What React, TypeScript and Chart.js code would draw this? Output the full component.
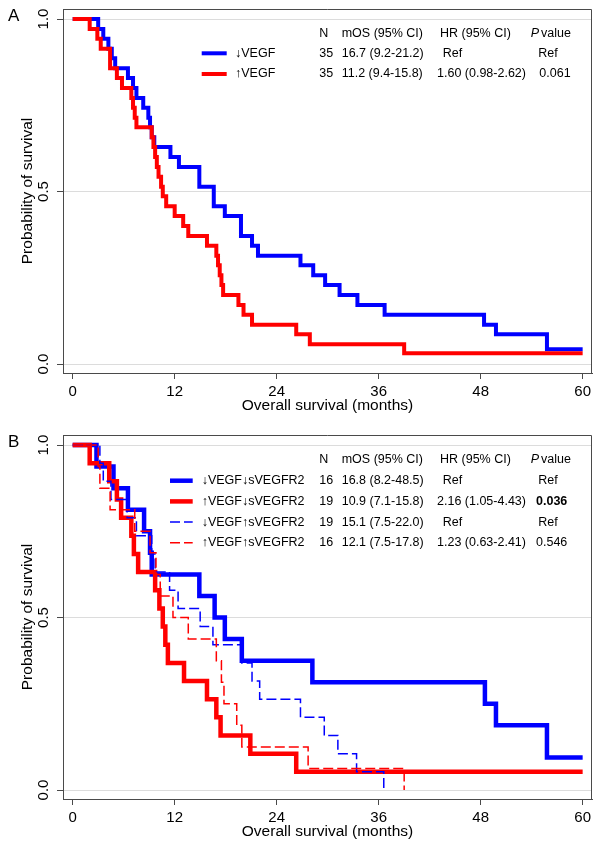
import React, { useEffect, useRef } from "react";
import { Chart, registerables } from "chart.js";

Chart.register(...registerables);

// ---------------- shared axis data ----------------
const xTickValues = [0, 12, 24, 36, 48, 60];
const yTickValues = [0, 0.5, 1.0];
const xAxisTitle = "Overall survival (months)";
const yAxisTitle = "Probability of survival";
const legendHeader = ["N", "mOS (95% CI)", "HR (95% CI)", "P", "value"];

// ---------------- Panel A ----------------
const aLowVegfTimes = [0, 3.0, 3.6, 4.2, 4.6, 5.0, 6.5, 7.1, 7.5, 8.3, 8.9, 9.1, 9.3, 9.6, 11.5, 12.5, 14.9, 16.6, 17.9, 19.8, 21.1, 21.8, 26.8, 28.3, 29.7, 31.4, 33.5, 36.7, 48.4, 49.8, 55.8, 60];
const aLowVegfSurv = [1, 0.971, 0.943, 0.914, 0.886, 0.857, 0.829, 0.8, 0.771, 0.743, 0.714, 0.686, 0.657, 0.629, 0.6, 0.571, 0.514, 0.457, 0.429, 0.371, 0.343, 0.314, 0.286, 0.257, 0.229, 0.2, 0.171, 0.143, 0.114, 0.086, 0.043, 0.043];
const aHighVegfTimes = [0, 2.0, 2.9, 3.3, 4.4, 5.2, 5.8, 6.9, 7.1, 7.3, 7.5, 9.3, 9.5, 9.7, 9.9, 10.1, 10.4, 10.6, 11.0, 12.0, 13.0, 13.6, 15.8, 16.9, 17.1, 17.3, 17.5, 17.7, 19.5, 20.1, 21.1, 26.3, 27.9, 39.0, 60];
const aHighVegfSurv = [1, 0.971, 0.943, 0.914, 0.857, 0.829, 0.8, 0.771, 0.743, 0.714, 0.686, 0.657, 0.629, 0.6, 0.571, 0.543, 0.514, 0.486, 0.457, 0.429, 0.4, 0.371, 0.343, 0.314, 0.286, 0.257, 0.229, 0.2, 0.171, 0.143, 0.114, 0.086, 0.057, 0.031, 0.031];
const aLabels = ["\u2193VEGF", "\u2191VEGF"];
const aN = ["35", "35"];
const aMos = ["16.7 (9.2-21.2)", "11.2 (9.4-15.8)"];
const aHr = ["Ref", "1.60 (0.98-2.62)"];
const aP = ["Ref", "0.061"];
const aPBold = [false, false];

// ---------------- Panel B ----------------
const bLowLowTimes = [0, 2.8, 4.8, 6.5, 8.4, 9.1, 9.3, 14.9, 16.7, 17.9, 19.9, 28.2, 48.5, 49.8, 55.8, 60];
const bLowLowSurv = [1, 0.9375, 0.875, 0.8125, 0.75, 0.6875, 0.625, 0.5625, 0.5, 0.4375, 0.375, 0.3125, 0.25, 0.1875, 0.094, 0.094];
const bHighLowTimes = [0, 2.0, 4.3, 5.2, 5.7, 6.9, 7.2, 7.7, 9.7, 10.2, 10.6, 10.9, 11.2, 13.1, 15.8, 16.9, 17.4, 20.9, 26.3, 60];
const bHighLowSurv = [1, 0.947, 0.895, 0.842, 0.789, 0.737, 0.684, 0.632, 0.579, 0.526, 0.474, 0.421, 0.368, 0.316, 0.263, 0.211, 0.158, 0.105, 0.053, 0.053];
const bLowHighTimes = [0, 3.2, 3.6, 4.5, 6.4, 7.5, 9.3, 9.7, 11.4, 12.4, 15.0, 16.5, 19.9, 21.1, 22.0, 26.8, 29.6, 31.2, 33.4, 36.6];
const bLowHighSurv = [1, 0.947, 0.895, 0.842, 0.789, 0.737, 0.684, 0.632, 0.579, 0.526, 0.474, 0.421, 0.368, 0.316, 0.263, 0.211, 0.158, 0.105, 0.053, 0];
const bHighHighTimes = [0, 3.0, 3.2, 4.4, 7.3, 9.1, 9.8, 10.3, 11.8, 13.6, 16.9, 17.5, 17.8, 19.3, 19.9, 27.7, 39.0];
const bHighHighSurv = [1, 0.9375, 0.875, 0.8125, 0.75, 0.6875, 0.625, 0.5625, 0.5, 0.4375, 0.375, 0.3125, 0.25, 0.1875, 0.125, 0.0625, 0];
const bLabels = ["\u2193VEGF\u2193sVEGFR2", "\u2191VEGF\u2193sVEGFR2", "\u2193VEGF\u2191sVEGFR2", "\u2191VEGF\u2191sVEGFR2"];
const bN = ["16", "19", "19", "16"];
const bMos = ["16.8 (8.2-48.5)", "10.9 (7.1-15.8)", "15.1 (7.5-22.0)", "12.1 (7.5-17.8)"];
const bHr = ["Ref", "2.16 (1.05-4.43)", "Ref", "1.23 (0.63-2.41)"];
const bP = ["Ref", "0.036", "Ref", "0.546"];
const bPBold = [false, true, false, false];

// ---------------- styling ----------------
const FONT = '"Liberation Sans", Arial, Helvetica, sans-serif';
const BLUE = "#0000ff";
const RED = "#ff0000";
const AXIS = "#4a4a4a";
const GRID = "#dcdcdc";
const CANVAS_H = 426;
const PAD_BOTTOM = 10.7;
const AREA_BOTTOM = 373;

type Series = {
  times: number[];
  surv: number[];
  color: string;
  width: number;
  dash: number[];
  order: number;
  label: string;
  n: string;
  mos: string;
  hr: string;
  p: string;
  pBold: boolean;
};

type LegendGeom = {
  lineX0: number;
  lineX1: number;
  nameX: number;
  rowY0: number;
  rowStep: number;
  pNumX: number;
};

function KMPanel(props: { letter: string; top: number; series: Series[]; geom: LegendGeom }) {
  const ref = useRef<HTMLCanvasElement | null>(null);
  useEffect(() => {
    const canvas = ref.current;
    if (!canvas) return;
    const { letter, series, geom } = props;

    const overlay = {
      id: "kmOverlay",
      afterDraw(chart: any) {
        const ctx = chart.ctx as CanvasRenderingContext2D;
        const { left, right, top, bottom } = chart.chartArea;
        ctx.save();
        ctx.strokeStyle = AXIS;
        ctx.lineWidth = 1;
        ctx.setLineDash([]);
        ctx.beginPath();
        ctx.moveTo(left, Math.round(top) + 0.5);
        ctx.lineTo(Math.round(right) - 0.5, Math.round(top) + 0.5);
        ctx.lineTo(Math.round(right) - 0.5, bottom);
        ctx.stroke();

        ctx.fillStyle = "#000";
        ctx.textBaseline = "middle";
        ctx.textAlign = "left";
        ctx.font = `17px ${FONT}`;
        ctx.fillText(letter, 8, 16);

        const fs = 12.5;
        const hy = 33.3;
        ctx.font = `${fs}px ${FONT}`;
        ctx.fillText(legendHeader[0], 319.3, hy);
        ctx.fillText(legendHeader[1], 341.7, hy);
        ctx.fillText(legendHeader[2], 440, hy);
        ctx.font = `italic ${fs}px ${FONT}`;
        ctx.fillText(legendHeader[3], 530.7, hy);
        ctx.font = `${fs}px ${FONT}`;
        ctx.fillText(legendHeader[4], 541, hy);

        series.forEach((s, i) => {
          const y = geom.rowY0 + geom.rowStep * i;
          ctx.strokeStyle = s.color;
          ctx.lineWidth = s.width;
          ctx.setLineDash(s.dash);
          ctx.lineCap = "butt";
          ctx.beginPath();
          ctx.moveTo(geom.lineX0, y);
          ctx.lineTo(geom.lineX1, y);
          ctx.stroke();
          ctx.setLineDash([]);
          ctx.fillStyle = "#000";
          ctx.font = `${fs}px ${FONT}`;
          ctx.fillText(s.label, geom.nameX, y);
          ctx.fillText(s.n, 319.3, y);
          ctx.fillText(s.mos, 341.7, y);
          ctx.fillText(s.hr, s.hr === "Ref" ? 442.7 : 437, y);
          ctx.font = `${s.pBold ? "bold " : ""}${fs}px ${FONT}`;
          ctx.fillText(s.p, s.p === "Ref" ? 538.3 : geom.pNumX, y);
        });
        ctx.restore();
      },
    };

    const datasets = series.map((s) => ({
      label: s.label,
      data: s.times.map((t, j) => ({ x: t, y: s.surv[j] })),
      borderColor: s.color,
      backgroundColor: s.color,
      borderWidth: s.width,
      borderDash: s.dash,
      stepped: true,
      pointRadius: 0,
      fill: false,
      tension: 0,
      order: s.order,
      borderJoinStyle: "miter",
      borderCapStyle: "butt",
    }));

    const chart = new Chart(canvas, {
      type: "line",
      data: { datasets } as any,
      options: {
        animation: false,
        responsive: false,
        events: [],
        layout: { padding: { left: 0, top: 9, right: 8, bottom: PAD_BOTTOM } },
        plugins: { legend: { display: false }, tooltip: { enabled: false } },
        scales: {
          x: {
            type: "linear",
            min: -1.14,
            max: 61.1,
            afterBuildTicks: (s: any) => {
              s.ticks = xTickValues.map((v) => ({ value: v }));
            },
            afterFit: (s: any) => {
              s.height = CANVAS_H - AREA_BOTTOM - PAD_BOTTOM;
              s.paddingLeft = 0;
              s.paddingRight = 0;
            },
            grid: { drawOnChartArea: false, drawTicks: true, tickLength: 6, tickColor: AXIS, color: AXIS },
            border: { display: true, color: AXIS, width: 1 },
            ticks: {
              color: "#000",
              font: { family: FONT, size: 15 },
              padding: 4,
              minRotation: 0,
              maxRotation: 0,
              autoSkip: false,
              callback: (v: any) => String(v),
            },
            title: {
              display: true,
              text: xAxisTitle,
              color: "#000",
              font: { family: FONT, size: 15.5 },
              padding: { top: 0, bottom: 0 },
            },
          },
          y: {
            type: "linear",
            min: -0.026,
            max: 1.029,
            afterBuildTicks: (s: any) => {
              s.ticks = yTickValues.map((v) => ({ value: v }));
            },
            afterFit: (s: any) => {
              s.width = 63;
              s.paddingTop = 0;
              s.paddingBottom = 0;
            },
            grid: { drawOnChartArea: true, color: GRID, lineWidth: 1, drawTicks: true, tickLength: 6, tickColor: AXIS },
            border: { display: true, color: AXIS, width: 1 },
            ticks: {
              color: "#000",
              font: { family: FONT, size: 15 },
              minRotation: 90,
              maxRotation: 90,
              crossAlign: "center",
              padding: 3,
              autoSkip: false,
              callback: (v: any) => Number(v).toFixed(1),
            },
            title: {
              display: true,
              text: yAxisTitle,
              color: "#000",
              font: { family: FONT, size: 15.5 },
              padding: { top: 18, bottom: 0 },
            },
          },
        },
      } as any,
      plugins: [overlay],
    });
    return () => chart.destroy();
  }, []);
  return (
    <canvas
      ref={ref}
      width={600}
      height={CANVAS_H}
      style={{ position: "absolute", left: 0, top: props.top, width: 600, height: CANVAS_H, display: "block" }}
    />
  );
}

const seriesA: Series[] = [
  { times: aLowVegfTimes, surv: aLowVegfSurv, color: BLUE, width: 4, dash: [], order: 2, label: aLabels[0], n: aN[0], mos: aMos[0], hr: aHr[0], p: aP[0], pBold: aPBold[0] },
  { times: aHighVegfTimes, surv: aHighVegfSurv, color: RED, width: 4, dash: [], order: 1, label: aLabels[1], n: aN[1], mos: aMos[1], hr: aHr[1], p: aP[1], pBold: aPBold[1] },
];

const seriesB: Series[] = [
  { times: bLowLowTimes, surv: bLowLowSurv, color: BLUE, width: 4.5, dash: [], order: 4, label: bLabels[0], n: bN[0], mos: bMos[0], hr: bHr[0], p: bP[0], pBold: bPBold[0] },
  { times: bHighLowTimes, surv: bHighLowSurv, color: RED, width: 4.5, dash: [], order: 3, label: bLabels[1], n: bN[1], mos: bMos[1], hr: bHr[1], p: bP[1], pBold: bPBold[1] },
  { times: bLowHighTimes, surv: bLowHighSurv, color: BLUE, width: 1.5, dash: [10, 4], order: 2, label: bLabels[2], n: bN[2], mos: bMos[2], hr: bHr[2], p: bP[2], pBold: bPBold[2] },
  { times: bHighHighTimes, surv: bHighHighSurv, color: RED, width: 1.5, dash: [10, 4], order: 1, label: bLabels[3], n: bN[3], mos: bMos[3], hr: bHr[3], p: bP[3], pBold: bPBold[3] },
];

const geomA: LegendGeom = { lineX0: 201.7, lineX1: 226.7, nameX: 235, rowY0: 53.3, rowStep: 20.7, pNumX: 539.3 };
const geomB: LegendGeom = { lineX0: 170, lineX1: 192.7, nameX: 201.7, rowY0: 54.7, rowStep: 20.7, pNumX: 536 };

export default function App() {
  return (
    <div style={{ position: "absolute", left: 0, top: 0, width: 600, height: 849, overflow: "hidden", background: "#fff" }}>
      <KMPanel letter="A" top={0} series={seriesA} geom={geomA} />
      <KMPanel letter="B" top={426} series={seriesB} geom={geomB} />
    </div>
  );
}
